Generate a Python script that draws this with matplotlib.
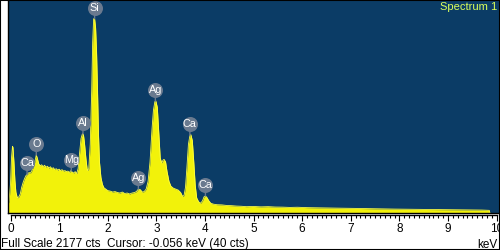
import numpy as np
import matplotlib
matplotlib.use("Agg")
import matplotlib.pyplot as plt
from matplotlib.ticker import MultipleLocator
import matplotlib.transforms as mtransforms
from matplotlib.patches import Rectangle

plt.rcParams['font.family'] = ['Liberation Sans', 'DejaVu Sans']

# ---- data (energy in keV, counts) ----
energy = [-0.06, -0.03, 0.00, 0.02, 0.04, 0.05, 0.07, 0.09, 0.11, 0.14, 0.17, 0.20,
          0.23, 0.26, 0.29, 0.32, 0.35, 0.38, 0.41, 0.44, 0.47, 0.50, 0.53, 0.55,
          0.58, 0.61, 0.64, 0.67, 0.70, 0.73, 0.76, 0.79, 0.82, 0.85, 0.88, 0.91,
          0.94, 0.97, 1.00, 1.03, 1.06, 1.09, 1.12, 1.15, 1.18, 1.21, 1.24, 1.27,
          1.30, 1.33, 1.36, 1.39, 1.42, 1.45, 1.48, 1.50, 1.52, 1.55, 1.58, 1.61,
          1.64, 1.67, 1.69, 1.71, 1.73, 1.75, 1.77, 1.79, 1.81, 1.83, 1.86, 1.89,
          1.92, 1.96, 2.00, 2.05, 2.10, 2.15, 2.20, 2.25, 2.30, 2.35, 2.40, 2.45,
          2.50, 2.55, 2.59, 2.63, 2.67, 2.71, 2.75, 2.79, 2.83, 2.87, 2.91, 2.94,
          2.97, 2.99, 3.02, 3.05, 3.08, 3.11, 3.14, 3.16, 3.19, 3.22, 3.26, 3.30,
          3.35, 3.40, 3.45, 3.50, 3.54, 3.57, 3.60, 3.63, 3.66, 3.69, 3.71, 3.74,
          3.77, 3.80, 3.83, 3.87, 3.91, 3.95, 3.98, 4.01, 4.04, 4.08, 4.12, 4.18,
          4.25, 4.35, 4.45, 4.55, 4.65, 4.75, 4.85, 5.00, 5.15, 5.30, 5.45, 5.60,
          5.75, 5.90, 6.10, 6.30, 6.50, 6.70, 6.90, 7.10, 7.30, 7.50, 7.70, 7.90,
          8.10, 8.30, 8.50, 8.70, 8.90, 9.10, 9.30, 9.50, 9.70, 9.85, 9.86]
counts = [60, 120, 300, 560, 680, 670, 520, 330, 210, 150, 160, 190,
          260, 310, 350, 380, 395, 410, 405, 430, 470, 520, 590, 560,
          500, 480, 490, 470, 485, 465, 475, 455, 470, 450, 460, 440,
          450, 435, 445, 430, 440, 425, 430, 420, 425, 410, 430, 415,
          405, 420, 400, 450, 600, 760, 810, 800, 720, 560, 430, 450,
          700, 1250, 1750, 1990, 1990, 1900, 1650, 1250, 800, 520, 360, 290,
          255, 240, 225, 220, 210, 215, 205, 200, 210, 195, 200, 190,
          200, 205, 215, 240, 235, 210, 215, 240, 320, 520, 850, 1050,
          1140, 1145, 1080, 820, 560, 510, 540, 545, 520, 420, 320, 270,
          250, 240, 230, 205, 165, 175, 260, 470, 700, 790, 800, 740,
          520, 280, 150, 110, 95, 120, 160, 170, 155, 120, 95, 85,
          80, 78, 72, 70, 66, 64, 60, 62, 58, 60, 56, 55,
          52, 54, 50, 48, 47, 45, 44, 42, 40, 38, 37, 35,
          34, 32, 31, 30, 29, 28, 27, 26, 25, 22, 0]

elements = ['Ca', 'O', 'Mg', 'Al', 'Si', 'Ag', 'Ag', 'Ca', 'Ca']
line_energy = [0.34, 0.53, 1.25, 1.49, 1.73, 2.63, 2.98, 3.69, 4.01]

full_scale = 2177
title_txt = 'Spectrum 1'
footer_txt = 'Full Scale 2177 cts  Cursor: -0.056 keV (40 cts)'
unit_txt = 'keV'

# ---- figure ----
W, H = 500, 250
fig = plt.figure(figsize=(5, 2.5), dpi=100)
fig.patch.set_facecolor('white')

blue = '#0b3c66'
yellow = '#f2f20a'
ax_l, ax_r, ax_b, ax_t = 8 / W, 499 / W, 1 - 212.5 / H, 1 - 0.5 / H
ax = fig.add_axes([ax_l, ax_b, ax_r - ax_l, ax_t - ax_b])
ax.set_facecolor(blue)
xlim = (-0.052, 10.05)
ax.set_xlim(*xlim)
ax.set_ylim(0, full_scale)
ax.fill_between(energy, counts, 0, color=yellow, lw=0)
ax.plot(energy, counts, color='#ffff40', lw=0.6)
ax.set_xticks([])
ax.set_yticks([])
for s in ['top', 'right']:
    ax.spines[s].set_visible(False)
for s in ['left', 'bottom']:
    ax.spines[s].set_color('black')
    ax.spines[s].set_linewidth(1.0)

# element labels
circ_col = '#6a7a8f'
for name, e in zip(elements, line_energy):
    c = float(np.interp(e, energy, counts))
    off = mtransforms.offset_copy(ax.transData, fig=fig, x=0, y=8.0, units='points')
    ax.annotate('', xy=(e, c), xytext=(0, 4), textcoords='offset points',
                arrowprops=dict(arrowstyle='-', color=circ_col, lw=1.0,
                                shrinkA=0, shrinkB=0))
    ax.plot([e], [c], transform=off, marker='o', ms=10.8, color=circ_col,
            mec='none', clip_on=False)
    ax.text(e, c, name, transform=off, ha='center', va='center',
            color='white', fontsize=7.8, clip_on=False)

# ruler axis
ry = 1 - 215 / H
rax = fig.add_axes([ax_l, ry, ax_r - ax_l, 1e-4])
rax.set_xlim(*xlim)
rax.set_yticks([])
rax.patch.set_visible(False)
for s in ['left', 'right', 'bottom']:
    rax.spines[s].set_visible(False)
rax.spines['top'].set_bounds(0, 10)
rax.spines['top'].set_linewidth(1.0)
rax.xaxis.set_major_locator(MultipleLocator(1))
rax.xaxis.set_minor_locator(MultipleLocator(0.1))
rax.tick_params(axis='x', which='both', top=True, bottom=False, labeltop=False,
                labelbottom=True, direction='in', width=0.8, color='black')
rax.tick_params(axis='x', which='major', length=4.0, pad=5.5, labelsize=8.5)
rax.tick_params(axis='x', which='minor', length=2.3)

fig.text(497 / W, 1 - 2.5 / H, title_txt, ha='right', va='top', color='#dcff5a', fontsize=8)
fig.text(1 / W, 1 - 247.5 / H, footer_txt, ha='left', va='baseline', color='black', fontsize=8.5)
fig.text(498 / W, 1 - 247.5 / H, unit_txt, ha='right', va='baseline', color='black', fontsize=8.5)

fig.patches.append(Rectangle((0, 0), 1, 1, transform=fig.transFigure, fill=False,
                             ec='black', lw=1.5))

fig.savefig('out.png', dpi=100)
